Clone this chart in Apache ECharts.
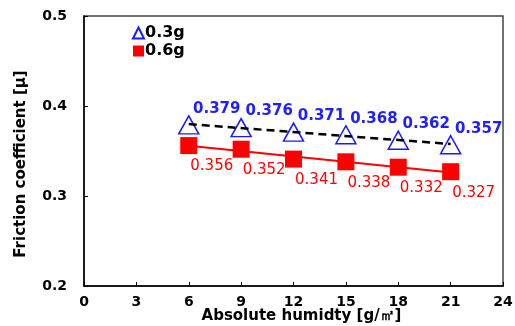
<!DOCTYPE html>
<html>
<head>
<meta charset="utf-8">
<script src="https://cdn.jsdelivr.net/npm/echarts@6/dist/echarts.min.js"></script>
<style>
  html, body { margin: 0; padding: 0; background: #fff; }
  #chart-container { width: 515px; height: 326px; }
</style>
</head>
<body>
<div id="chart-container"></div>
<script>
var dom = document.getElementById("chart-container");
var myChart = echarts.init(dom, null, { renderer: "canvas" });

var humidity = [6, 9, 12, 15, 18, 21];
var load03 = [0.379, 0.376, 0.371, 0.368, 0.362, 0.357];
var load06 = [0.356, 0.352, 0.341, 0.338, 0.332, 0.327];
var seriesNames = ["0.3g", "0.6g"];

var font = "DejaVu Sans";

// least squares trend line between first and last x
function trend(xs, ys) {
  var n = xs.length, mx = 0, my = 0;
  for (var i = 0; i < n; i++) { mx += xs[i]; my += ys[i]; }
  mx /= n; my /= n;
  var sxy = 0, sxx = 0;
  for (var j = 0; j < n; j++) {
    sxy += (xs[j] - mx) * (ys[j] - my);
    sxx += (xs[j] - mx) * (xs[j] - mx);
  }
  var b = sxy / sxx, a = my - b * mx;
  var x0 = xs[0], x1 = xs[n - 1];
  return [[x0, a + b * x0], [x1, a + b * x1]];
}

function pairs(xs, ys) {
  return xs.map(function (x, i) { return [x, ys[i]]; });
}

var option = {
  animation: false,
  grid: {
    left: 84, right: 12, top: 16, bottom: 40,
    outerBoundsMode: "none",
    show: true, borderColor: "#444", borderWidth: 1.5
  },
  legend: {
    data: seriesNames,
    orient: "vertical",
    left: 127,
    top: 20,
    itemWidth: 11,
    itemHeight: 11,
    itemGap: 2,
    textStyle: { fontFamily: font, fontWeight: "bold", fontSize: 16, color: "#000", padding: [0, 0, 0, -4] }
  },
  xAxis: {
    type: "value",
    min: 0,
    max: 24,
    interval: 3,
    name: "Absolute humidty [g/㎡]",
    nameLocation: "middle",
    nameMoveOverlap: false,
    nameGap: 23,
    nameTextStyle: { fontFamily: font, fontWeight: "bold", fontSize: 15, color: "#000", padding: [0, 0, 0, 16] },
    axisLine: { lineStyle: { color: "#000", width: 1.5 } },
    axisTick: { inside: true, length: 4, lineStyle: { color: "#000" } },
    axisLabel: { fontFamily: font, fontWeight: "bold", fontSize: 14, color: "#000", margin: 9 },
    splitLine: { show: false }
  },
  yAxis: {
    type: "value",
    min: 0.2,
    max: 0.5,
    interval: 0.1,
    name: "Friction coefficient [μ]",
    nameLocation: "middle",
    nameGap: 55,
    nameTextStyle: { fontFamily: font, fontWeight: "bold", fontSize: 15, color: "#000", padding: [0, 26, 0, 0] },
    axisLine: { lineStyle: { color: "#000", width: 1.5 } },
    axisTick: { inside: true, length: 4, lineStyle: { color: "#000" } },
    axisLabel: {
      fontFamily: font, fontWeight: "bold", fontSize: 14, color: "#000", margin: 17,
      formatter: function (v) { return v.toFixed(1); }
    },
    splitLine: { show: false }
  },
  series: [
    {
      name: seriesNames[1] + " trend",
      type: "line",
      data: trend(humidity, load06),
      symbol: "none",
      lineStyle: { color: "#ff0000", width: 2 },
      z: 2
    },
    {
      name: seriesNames[1],
      type: "scatter",
      data: pairs(humidity, load06),
      symbol: "rect",
      symbolSize: 17,
      itemStyle: { color: "#ff0000", opacity: 1 },
      label: {
        show: true,
        position: "inside",
        offset: [23, 21],
        fontFamily: font,
        fontSize: 15,
        color: "#ff0000",
        formatter: function (p) { return p.value[1].toFixed(3); }
      },
      z: 3
    },
    {
      name: seriesNames[0],
      type: "scatter",
      data: pairs(humidity, load03),
      symbol: "triangle",
      symbolSize: [20, 18],
      itemStyle: { color: "#fff", borderColor: "#1a1aff", borderWidth: 1.5, opacity: 1 },
      label: {
        show: true,
        position: "inside",
        offset: [28, -16],
        fontFamily: font,
        fontWeight: "bold",
        fontSize: 15,
        color: "#2020ff",
        formatter: function (p) { return p.value[1].toFixed(3); }
      },
      z: 3
    },
    {
      name: seriesNames[0] + " trend",
      type: "line",
      data: trend(humidity, load03),
      symbol: "none",
      lineStyle: { color: "#000", width: 2.5, type: [8, 5] },
      z: 4
    }
  ]
};

myChart.setOption(option);

window.addEventListener("resize", function () {
  myChart.resize();
});
</script>
</body>
</html>
